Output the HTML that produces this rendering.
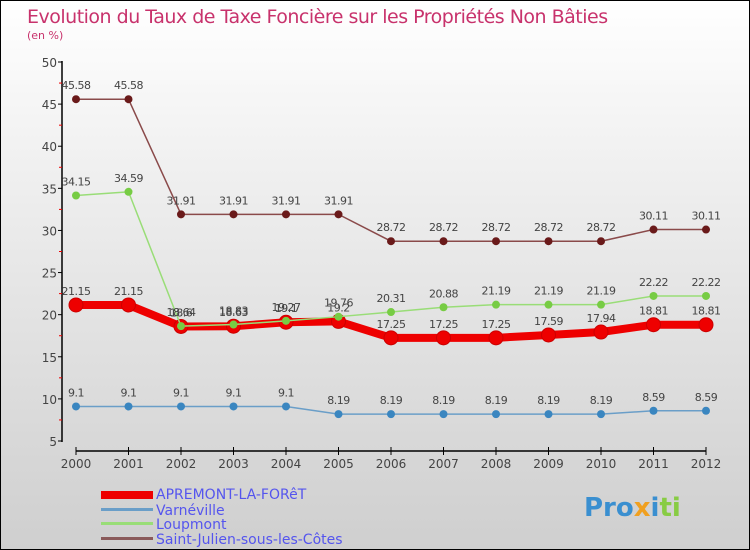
<!DOCTYPE html>
<html><head><meta charset="utf-8">
<style>
body{margin:0}
#wrap{position:relative;width:748px;height:548px;border:1px solid #000;background:linear-gradient(#ffffff 0%,#f0f0f0 30%,#d8d8d8 80%,#cfcfcf 100%);font-family:"DejaVu Sans","Liberation Sans",sans-serif;overflow:hidden}
svg text{font-family:"DejaVu Sans","Liberation Sans",sans-serif}
</style></head><body>
<div id="wrap">
<svg id="chart" width="748" height="548" xmlns="http://www.w3.org/2000/svg">
<text x="26" y="22" font-size="19" fill="#c8326c" style="letter-spacing:-0.5px">Evolution du Taux de Taxe Foncière sur les Propriétés Non Bâties</text>
<text x="26" y="38" font-size="11" fill="#c8326c">(en %)</text>
<g id="axes"></g>
<g id="series"></g>
<g>
<rect x="100" y="490" width="52" height="8" fill="#ee0000"/>
<text x="155" y="498" font-size="14" fill="#5555ee">APREMONT-LA-FORêT</text>
<rect x="100" y="507" width="52" height="3" fill="#6a9ec8"/>
<text x="155" y="514" font-size="14" fill="#5555ee">Varnéville</text>
<rect x="100" y="521" width="52" height="3" fill="#99dd77"/>
<text x="155" y="528" font-size="14" fill="#5555ee">Loupmont</text>
<rect x="100" y="536" width="52" height="3" fill="#8a5a5a"/>
<text x="155" y="543" font-size="14" fill="#5555ee">Saint-Julien-sous-les-Côtes</text>
</g>
<g>
<text x="583" y="515" font-size="26" font-weight="bold" fill="#3a8fd0">Pro<tspan fill="#f0a020">x</tspan><tspan fill="#3a8fd0">i</tspan><tspan fill="#88cc44">ti</tspan></text>
</g>
</svg>
</div>
<script>
const years=[2000,2001,2002,2003,2004,2005,2006,2007,2008,2009,2010,2011,2012];
const apremont=[21.15,21.15,18.6,18.63,19.1,19.2,17.25,17.25,17.25,17.59,17.94,18.81,18.81];
const varneville=[9.1,9.1,9.1,9.1,9.1,8.19,8.19,8.19,8.19,8.19,8.19,8.59,8.59];
const loupmont=[34.15,34.59,18.64,18.83,19.27,19.76,20.31,20.88,21.19,21.19,21.19,22.22,22.22];
const saintJulien=[45.58,45.58,31.91,31.91,31.91,31.91,28.72,28.72,28.72,28.72,28.72,30.11,30.11];
const yTicks=[5,10,15,20,25,30,35,40,45,50];
const NS="http://www.w3.org/2000/svg";
function xPos(i){return 75+i*52.5;}
function yPos(v){return 440-(v-5)*(379/45);}
function mk(tag,attrs,parent){const e=document.createElementNS(NS,tag);for(const k in attrs)e.setAttribute(k,attrs[k]);parent.appendChild(e);return e;}
const axes=document.getElementById('axes');
let ax=mk('line',{x1:61,y1:60,x2:61,y2:441,stroke:'#000','stroke-width':1.5},axes);


yTicks.forEach(t=>{
  const y=yPos(t);
  mk('line',{x1:57,y1:y,x2:61,y2:y,stroke:'#000'},axes);
  const tx=mk('text',{x:56,y:y+5,'font-size':12,fill:'#444','text-anchor':'end'},axes);
  tx.textContent=t;
  
  
  if(t<50){mk('line',{x1:58,y1:yPos(t+2.5),x2:61,y2:yPos(t+2.5),stroke:'#e00'},axes);}
});
let xa=mk('line',{x1:75,y1:450,x2:705,y2:450,stroke:'#000','stroke-width':1.5},axes);


years.forEach((yr,i)=>{
  const x=xPos(i);
  mk('line',{x1:x,y1:446,x2:x,y2:454,stroke:'#000'},axes);
  const tx=mk('text',{x:x,y:467,'font-size':12,fill:'#444','text-anchor':'middle'},axes);
  tx.textContent=yr;
  
  
});
const seriesG=document.getElementById('series');
function draw(vals,color,dot,w,r,name){
  const g=mk('g',{},seriesG);
  
  
  const pts=vals.map((v,i)=>xPos(i)+','+yPos(v)).join(' ');
  mk('polyline',{points:pts,fill:'none',stroke:color,'stroke-width':w,'stroke-linejoin':'round'},g);
  vals.forEach((v,i)=>{
    const c=mk('circle',{cx:xPos(i),cy:yPos(v),r:r,fill:dot,stroke:color==='#ee0000'?'#cc0000':'none'},g);
    
    
    const t=mk('text',{x:xPos(i),y:yPos(v)-10,'font-size':11,fill:'#444','text-anchor':'middle','letter-spacing':'-0.5'},g);
    t.textContent=v;
    
    
  });
}
draw(saintJulien,'#8a4a4a','#6a1a1a',1.5,4,'saint-julien');
draw(varneville,'#6a9ec8','#3a86c0',1.5,4,'varneville');
draw(apremont,'#ee0000','#ee0000',8,7,'apremont');
draw(loupmont,'#99dd77','#77cc44',1.5,4,'loupmont');
</script>
</body></html>
